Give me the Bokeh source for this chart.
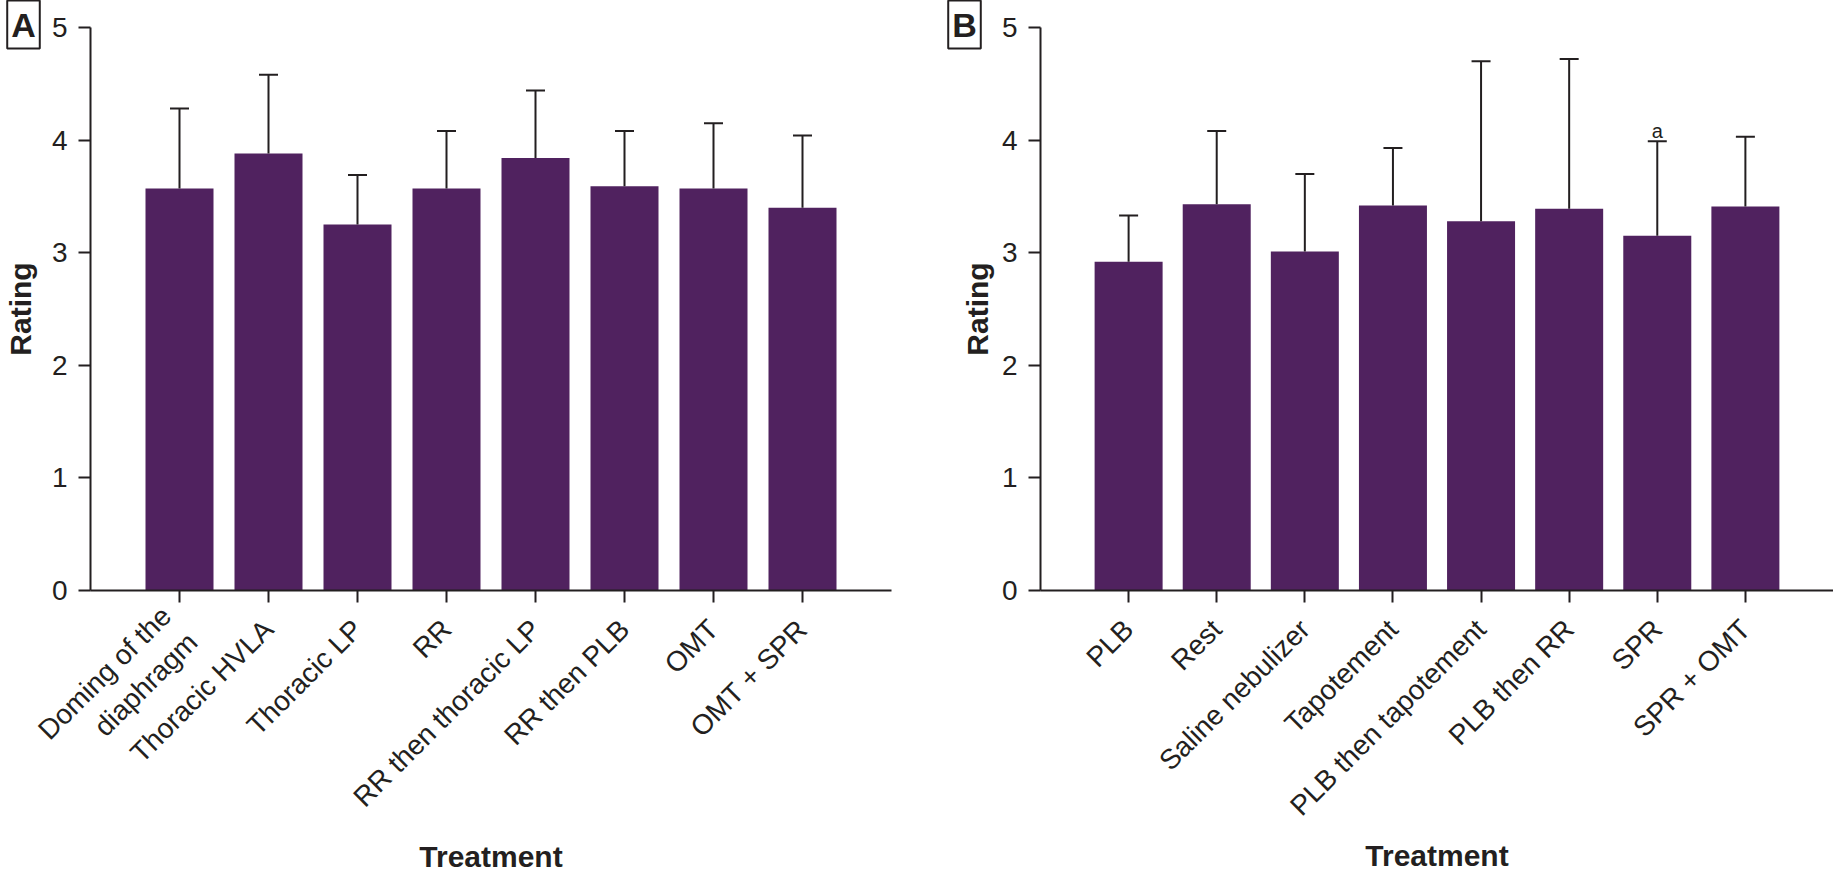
import math
from bokeh.plotting import figure
from bokeh.models import (FactorRange, Whisker, TeeHead, ColumnDataSource, Label,
                          Range1d, FixedTicker)
from bokeh.layouts import row
from bokeh.embed import file_html
from bokeh.resources import INLINE
from bokeh.core.properties import value

# ---------------- data ----------------
cats_a = ["Doming of the\ndiaphragm", "Thoracic HVLA", "Thoracic LP", "RR",
          "RR then thoracic LP", "RR then PLB", "OMT", "OMT + SPR"]
mean_a = [3.57, 3.88, 3.25, 3.57, 3.84, 3.59, 3.57, 3.40]
upper_a = [4.28, 4.58, 3.69, 4.08, 4.44, 4.08, 4.15, 4.04]
notes_a = ["", "", "", "", "", "", "", ""]

cats_b = ["PLB", "Rest", "Saline nebulizer", "Tapotement", "PLB then tapotement",
          "PLB then RR", "SPR", "SPR + OMT"]
mean_b = [2.92, 3.43, 3.01, 3.42, 3.28, 3.39, 3.15, 3.41]
upper_b = [3.33, 4.08, 3.70, 3.93, 4.70, 4.72, 3.99, 4.03]
notes_b = ["", "", "", "", "", "", "a", ""]

y_ticks = [0, 1, 2, 3, 4, 5]

PURPLE = "#50225F"
DARK = "#231F20"
FONT = "Liberation Sans"


def make_panel(cats, means, uppers, notes, border_left, frame_w, border_right,
               ylabel_standoff, xlabel_standoff):
    src = ColumnDataSource(dict(cat=cats, mean=means, upper=uppers, note=notes))
    unit = frame_w / 9.0
    p = figure(x_range=FactorRange(factors=cats, range_padding=0.5,
                                   range_padding_units="absolute"),
               y_range=Range1d(0, 5),
               frame_width=frame_w, frame_height=563,
               min_border_left=border_left, min_border_right=border_right,
               min_border_top=27, min_border_bottom=254,
               output_backend="svg", toolbar_location=None, tools="")
    p.vbar(x="cat", top="mean", width=68.0 / unit, source=src,
           fill_color=PURPLE, line_color=None)
    w = Whisker(source=src, base="cat", upper="upper", lower="mean",
                dimension="height", line_color=DARK, line_width=2,
                upper_head=TeeHead(size=19, line_color=DARK, line_width=2),
                lower_head=None, level="overlay")
    p.add_layout(w)
    p.text(x="cat", y="upper", text="note", source=src, text_align="center",
           text_baseline="alphabetic", y_offset=-10,
           text_font=value(FONT), text_font_size=value("20px"), text_color=DARK)

    p.xgrid.visible = False
    p.ygrid.visible = False
    p.outline_line_color = None
    p.background_fill_color = "white"
    p.border_fill_color = "white"

    p.yaxis.ticker = FixedTicker(ticks=y_ticks)
    p.yaxis.minor_tick_line_color = None
    for ax in (p.xaxis[0], p.yaxis[0]):
        ax.axis_line_color = DARK
        ax.axis_line_width = 2
        ax.major_tick_line_color = DARK
        ax.major_tick_line_width = 2
        ax.major_tick_in = 0
        ax.major_tick_out = 12
        ax.major_label_text_font = FONT
        ax.major_label_text_font_size = "28px"
        ax.major_label_text_color = DARK
        ax.axis_label_text_font = FONT
        ax.axis_label_text_font_size = "30px"
        ax.axis_label_text_font_style = "bold"
        ax.axis_label_text_color = DARK
    p.yaxis.major_label_standoff = 11
    p.yaxis.axis_label = "Rating"
    p.yaxis.axis_label_standoff = ylabel_standoff
    p.xaxis.major_label_orientation = math.pi / 4
    p.xaxis.major_label_standoff = 22
    p.xaxis.axis_label = "Treatment"
    p.xaxis.axis_label_standoff = xlabel_standoff
    return p


def panel_letter(text, x):
    return Label(x=x, y=566, x_units="screen", y_units="screen",
                 text=text, text_font=FONT,
                 text_font_size="34px", text_font_style="bold",
                 text_align="center", text_baseline="middle", text_color=DARK,
                 border_line_color=DARK, border_line_width=2,
                 background_fill_color="white",
                 padding=dict(left=4, right=4, top=5, bottom=5))


pa = make_panel(cats_a, mean_a, upper_a, notes_a, 85, 801, 0, 12, 13)
pb = make_panel(cats_b, mean_b, upper_b, notes_b, 112, 793, 0, 5, 4)

# boxed panel letters live in side panels (A: right of its frame, B: left)
pa.add_layout(panel_letter("A", -868), "right")
pb.add_layout(panel_letter("B", 40), "left")

layout = row(pa, pb)
open("out.html", "w").write(file_html(layout, INLINE))
